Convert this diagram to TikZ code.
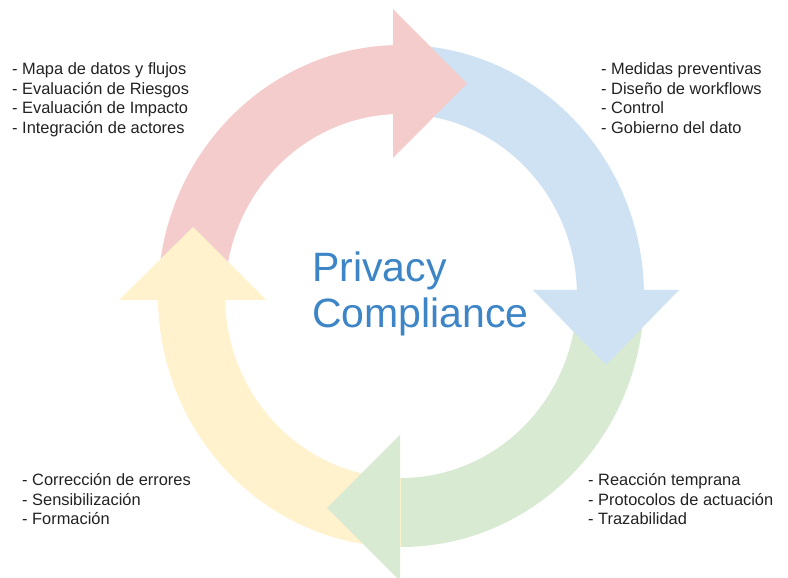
\documentclass[tikz,border=0pt]{standalone}
\usepackage{fontspec}
\setmainfont{Liberation Sans}
\usetikzlibrary{calc}
\definecolor{cpink}{HTML}{F4CCCC}
\definecolor{cblue}{HTML}{CFE2F3}
\definecolor{cgreen}{HTML}{D9EAD3}
\definecolor{cyellow}{HTML}{FFF2CC}
\definecolor{ctitle}{HTML}{3D85C6}
\definecolor{ctext}{HTML}{222222}
\begin{document}
\begin{tikzpicture}[x=1pt,y=1pt,
  listtext/.style={anchor=base west, align=left, inner sep=0pt, text=ctext,
    font=\fontsize{16.4}{19.5}\selectfont},
  titletext/.style={anchor=base west, align=left, inner sep=0pt, text=ctitle,
    font=\fontsize{41}{46.5}\selectfont}]
\useasboundingbox (0,0) rectangle (788,578);
\fill[white] (0,0) rectangle (788,578);
\coordinate (C) at (401,282);
% ring bodies
\fill[cpink]   ($(C)+(90:243 and 251)$) arc[start angle=90, end angle=180, x radius=243, y radius=251]
   -- ($(C)+(180:176 and 182)$) arc[start angle=180, end angle=90, x radius=176, y radius=182] -- cycle;
\fill[cblue]   ($(C)+(0:243 and 251)$) arc[start angle=0, end angle=90, x radius=243, y radius=251]
   -- ($(C)+(90:176 and 182)$) arc[start angle=90, end angle=0, x radius=176, y radius=182] -- cycle;
\fill[cgreen]  ($(C)+(270:243 and 251)$) arc[start angle=270, end angle=360, x radius=243, y radius=251]
   -- ($(C)+(0:176 and 182)$) arc[start angle=360, end angle=270, x radius=176, y radius=182] -- cycle;
\fill[cyellow] ($(C)+(180:243 and 251)$) arc[start angle=180, end angle=270, x radius=243, y radius=251]
   -- ($(C)+(270:176 and 182)$) arc[start angle=270, end angle=180, x radius=176, y radius=182] -- cycle;
% heads
\fill[cpink]   (393,569) -- (467,494.5) -- (393,420) -- cycle;
\fill[cblue]   (533,288) -- (679,288) -- (606,213) -- cycle;
\fill[cgreen]  (400,143) -- (327,70) -- (400,-3) -- cycle;
\fill[cyellow] (119,278) -- (266,278) -- (193,351) -- cycle;
% texts (anchor = baseline of last line)
\node[titletext] (title) at (312,250) {Privacy\\Compliance};
\node[listtext] (tl) at (12,444.5) {- Mapa de datos y flujos\\- Evaluación de Riesgos\\- Evaluación de Impacto\\- Integración de actores};
\node[listtext] (tr) at (601,444.5) {- Medidas preventivas\\- Diseño de workflows\\- Control\\- Gobierno del dato};
\node[listtext] (bl) at (22,53) {- Corrección de errores\\- Sensibilización\\- Formación};
\node[listtext] (br) at (588,53) {- Reacción temprana\\- Protocolos de actuación\\- Trazabilidad};
\end{tikzpicture}
\end{document}
